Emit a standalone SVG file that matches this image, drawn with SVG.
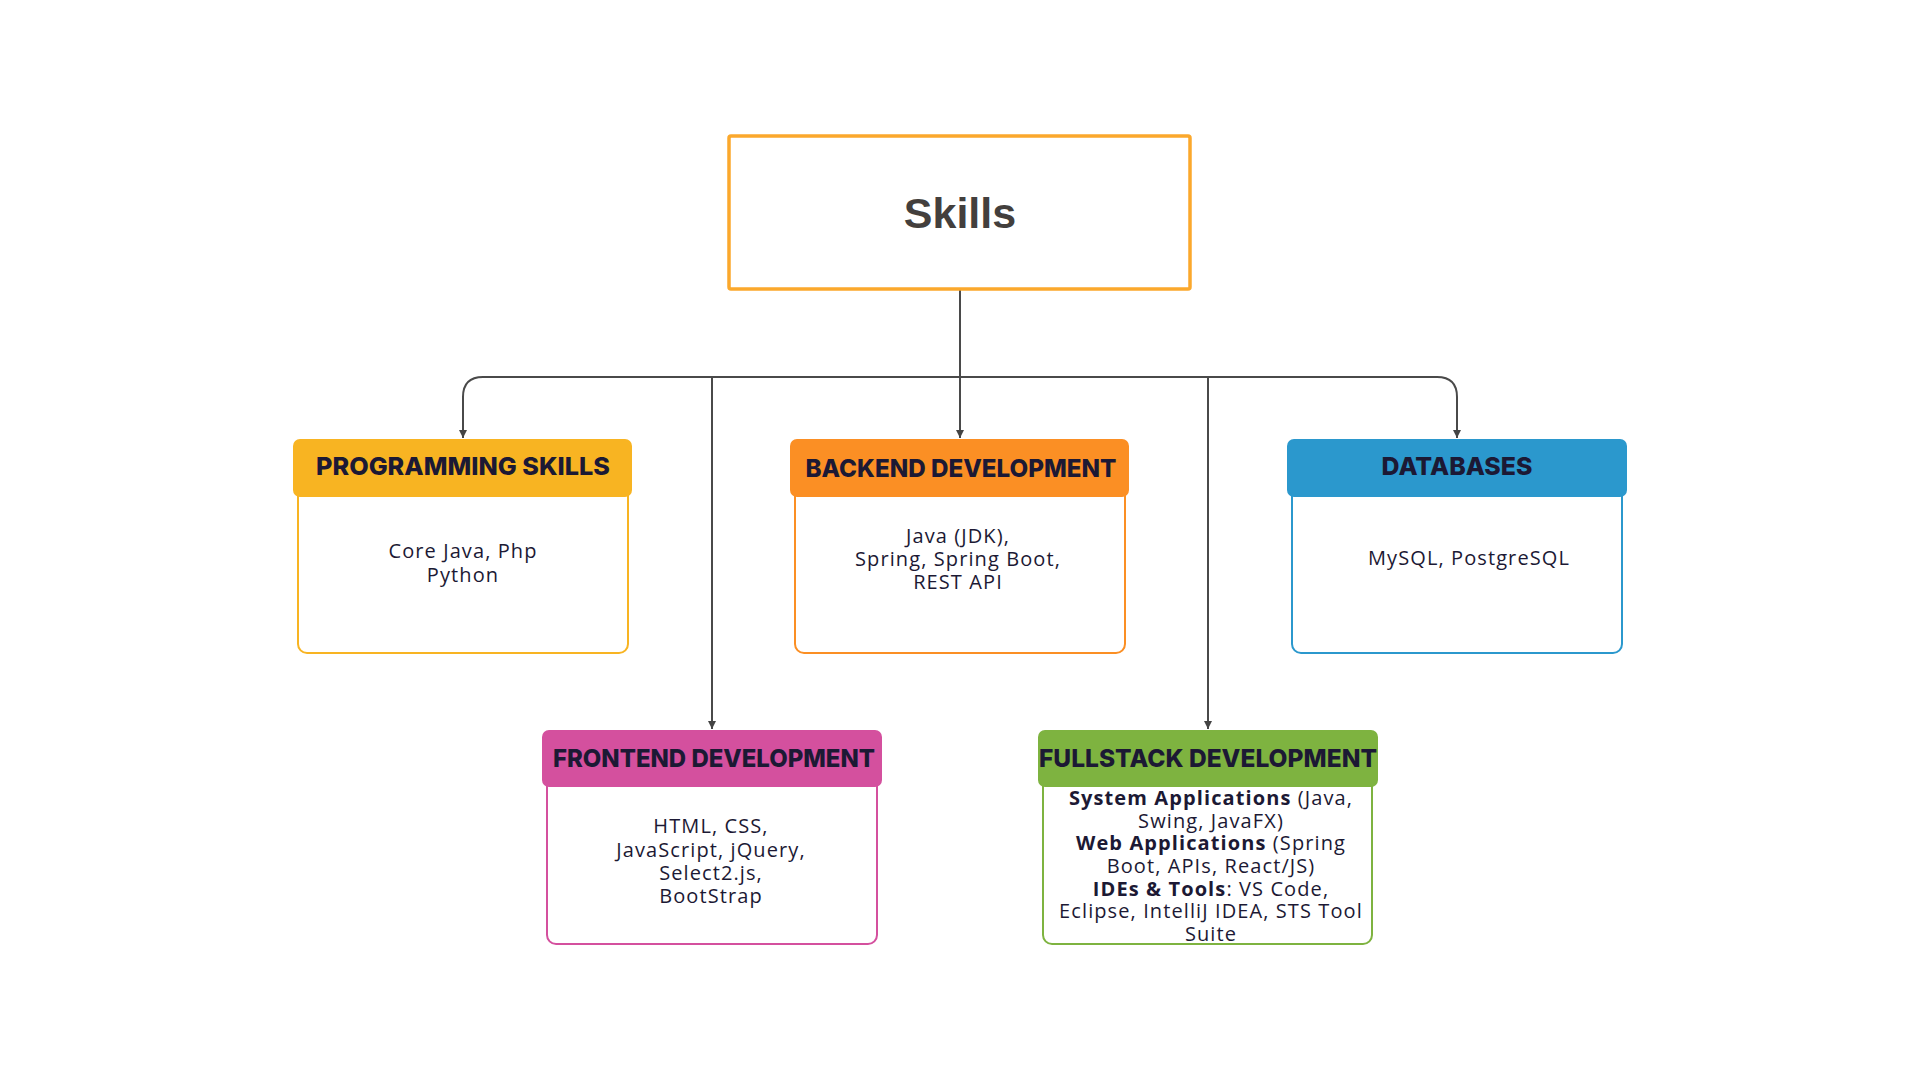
<svg xmlns="http://www.w3.org/2000/svg" width="1920" height="1080" viewBox="0 0 1920 1080">
<defs>
<marker id="arr" markerWidth="10" markerHeight="10" refX="8" refY="5" orient="auto" markerUnits="userSpaceOnUse" viewBox="0 0 10 10">
<path d="M0,1 L8,5 L0,9 Z" fill="#444"/>
</marker>
<style>
.conn{fill:none;stroke:#4a4a4a;stroke-width:2}
.title{font-family:"Inter","Liberation Sans",sans-serif;font-weight:800;font-size:25px;fill:#1c1934;text-anchor:middle}
.body{font-family:"Open Sans","Liberation Sans",sans-serif;font-size:20px;letter-spacing:1.1px;fill:#1c1934;text-anchor:middle}
.b{font-weight:700}
.box{fill:#fff;stroke-width:2}
</style>
</defs>
<rect width="1920" height="1080" fill="#fff"/>
<g id="connectors">
<line class="conn" x1="960" y1="290" x2="960" y2="438" marker-end="url(#arr)"/>
<path class="conn" d="M483,377 L1437,377"/>
<path class="conn" d="M483,377 Q463,377 463,397 L463,438" marker-end="url(#arr)"/>
<path class="conn" d="M1437,377 Q1457,377 1457,397 L1457,438" marker-end="url(#arr)"/>
<line class="conn" x1="712" y1="377" x2="712" y2="729" marker-end="url(#arr)"/>
<line class="conn" x1="1208" y1="377" x2="1208" y2="729" marker-end="url(#arr)"/>
</g>
<g id="skills">
<rect x="729" y="136" width="461" height="153" rx="2" fill="#fff" stroke="#FBA82C" stroke-width="3.5"/>
<text x="960" y="228" font-family="Liberation Sans, Arial, sans-serif" font-weight="700" font-size="43" fill="#433f3d" text-anchor="middle">Skills</text>
</g>
<g id="programming">
<rect class="box" x="298" y="480" width="330" height="173" rx="9" stroke="#F8B422"/>
<rect x="293" y="439" width="339" height="58" rx="7" fill="#F8B422"/>
<text class="title" x="463" y="475" textLength="294" lengthAdjust="spacingAndGlyphs">PROGRAMMING SKILLS</text>
<text class="body" x="463" y="558">Core Java, Php</text>
<text class="body" x="463" y="582">Python</text>
</g>
<g id="backend">
<rect class="box" x="795" y="480" width="330" height="173" rx="9" stroke="#FB8F24"/>
<rect x="790" y="439" width="339" height="58" rx="7" fill="#FB8F24"/>
<text class="title" x="961" y="477" textLength="311" lengthAdjust="spacingAndGlyphs">BACKEND DEVELOPMENT</text>
<text class="body" x="958" y="543">Java (JDK),</text>
<text class="body" x="958" y="566">Spring, Spring Boot,</text>
<text class="body" x="958" y="589">REST API</text>
</g>
<g id="databases">
<rect class="box" x="1292" y="480" width="330" height="173" rx="9" stroke="#2B98CD"/>
<rect x="1287" y="439" width="340" height="58" rx="7" fill="#2B98CD"/>
<text class="title" x="1457" y="475" textLength="151" lengthAdjust="spacingAndGlyphs">DATABASES</text>
<text class="body" x="1469" y="565">MySQL, PostgreSQL</text>
</g>
<g id="frontend">
<rect class="box" x="547" y="770" width="330" height="174" rx="9" stroke="#D4509E"/>
<rect x="542" y="730" width="340" height="57" rx="7" fill="#D4509E"/>
<text class="title" x="714" y="767" textLength="322" lengthAdjust="spacingAndGlyphs">FRONTEND DEVELOPMENT</text>
<text class="body" x="711" y="833">HTML, CSS,</text>
<text class="body" x="711" y="857">JavaScript, jQuery,</text>
<text class="body" x="711" y="880">Select2.js,</text>
<text class="body" x="711" y="903">BootStrap</text>
</g>
<g id="fullstack">
<rect class="box" x="1043" y="770" width="329" height="174" rx="9" stroke="#7EB340"/>
<rect x="1038" y="730" width="340" height="57" rx="7" fill="#7EB340"/>
<text class="title" x="1208" y="767" textLength="338" lengthAdjust="spacingAndGlyphs">FULLSTACK DEVELOPMENT</text>
<text class="body" x="1211" y="805"><tspan class="b">System Applications</tspan> (Java,</text>
<text class="body" x="1211" y="828">Swing, JavaFX)</text>
<text class="body" x="1211" y="850"><tspan class="b">Web Applications</tspan> (Spring</text>
<text class="body" x="1211" y="873">Boot, APIs, React/JS)</text>
<text class="body" x="1211" y="896"><tspan class="b">IDEs &amp; Tools</tspan>: VS Code,</text>
<text class="body" x="1211" y="918">Eclipse, IntelliJ IDEA, STS Tool</text>
<text class="body" x="1211" y="941">Suite</text>
</g>
</svg>
